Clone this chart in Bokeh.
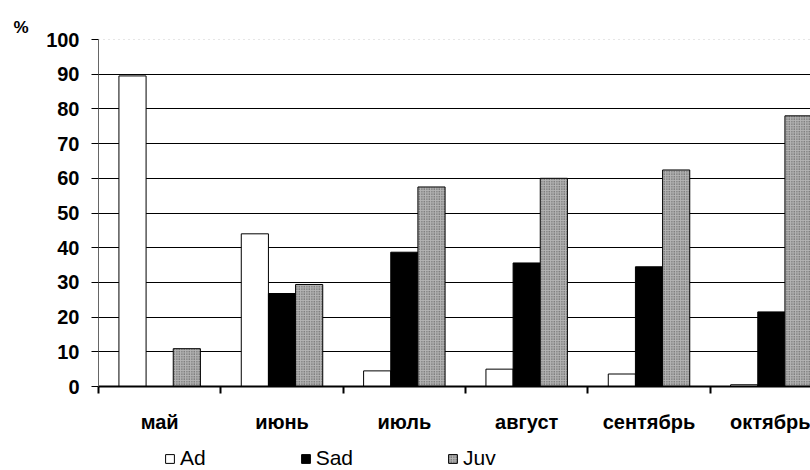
from bokeh.plotting import figure
from bokeh.models import Range1d, FixedTicker, Span, Legend, LegendItem, Title
from bokeh.layouts import column
from bokeh.embed import file_html
from bokeh.resources import INLINE

months = ["май", "июнь", "июль", "август", "сентябрь", "октябрь"]
ad = [89.5, 44.0, 4.5, 5.0, 3.6, 0.5]
sad = [0.0, 26.8, 38.7, 35.6, 34.5, 21.5]
juv = [10.9, 29.4, 57.5, 60.0, 62.4, 78.0]
series = ["Ad", "Sad", "Juv"]
y_ticks = list(range(0, 101, 10))

FONT = "Liberation Sans"
centers = [i + 0.5 for i in range(len(months))]
bw = 0.222

styles = [
    dict(fill_color="white", line_color="black", line_width=1),
    dict(fill_color="black", line_color="black", line_width=1),
    dict(fill_color="#b4b4b4", hatch_pattern=".", hatch_color="#444444", hatch_scale=2.5,
         hatch_weight=1, line_color="black", line_width=1),
]

p = figure(width=810, height=440, x_range=Range1d(0, 5.82), y_range=Range1d(0, 100),
           output_backend="svg", toolbar_location=None,
           min_border_left=98, min_border_right=0, min_border_top=39, min_border_bottom=54)
p.outline_line_color = None
p.background_fill_color = "white"
p.border_fill_color = "white"

for k, vals in enumerate([ad, sad, juv]):
    p.vbar(x=[c + (k - 1) * bw for c in centers], top=vals, width=bw, **styles[k])

# grid
p.xgrid.grid_line_color = None
p.ygrid.ticker = FixedTicker(ticks=y_ticks[1:-1])
p.ygrid.grid_line_color = "black"
p.ygrid.grid_line_width = 1
p.ygrid.level = "underlay"
p.add_layout(Span(location=y_ticks[-1], dimension="width", line_color="#9a9a9a",
                  line_dash="1 4", line_width=1))

# y axis
ya = p.yaxis[0]
ya.ticker = FixedTicker(ticks=y_ticks)
ya.axis_line_color = "#666666"
ya.major_tick_out = 7
ya.major_tick_in = 0
ya.minor_tick_line_color = None
ya.major_tick_line_color = "black"
ya.major_label_text_font = FONT
ya.major_label_text_font_style = "bold"
ya.major_label_text_font_size = "20px"
ya.major_label_text_color = "black"
ya.major_label_standoff = 12

# x axis
xa = p.xaxis[0]
xa.ticker = FixedTicker(ticks=centers, minor_ticks=list(range(len(months))))
xa.major_label_overrides = {c: m for c, m in zip(centers, months)}
xa.axis_line_color = "black"
xa.axis_line_width = 2
xa.major_tick_line_color = None
xa.major_tick_out = 0
xa.major_tick_in = 0
xa.minor_tick_line_color = "black"
xa.minor_tick_line_width = 2
xa.minor_tick_out = 7
xa.minor_tick_in = 0
xa.major_label_text_font = FONT
xa.major_label_text_font_style = "bold"
xa.major_label_text_font_size = "20px"
xa.major_label_text_color = "black"
xa.major_label_standoff = 17

p.add_layout(Title(text="%", align="left", offset=-85, text_font=FONT,
                   text_font_style="bold", text_font_size="17px", text_color="black",
                   standoff=6), "above")

# legend strip
lg = figure(width=810, height=30, x_range=Range1d(0, 1), y_range=Range1d(0, 1),
            output_backend="svg", toolbar_location=None,
            x_axis_location=None, y_axis_location=None,
            min_border_left=0, min_border_right=0, min_border_top=0, min_border_bottom=0)
lg.grid.visible = False
lg.outline_line_color = None
lg.border_fill_color = "white"
items = []
for k, name in enumerate(series):
    r = lg.vbar(x=[5], top=[1], width=0.1, **styles[k])
    items.append(LegendItem(label=name, renderers=[r]))
legend = Legend(items=items, orientation="horizontal", location=(66, 0),
                glyph_width=11, glyph_height=11, label_standoff=5, spacing=94,
                padding=0, margin=0, border_line_color=None, background_fill_alpha=0,
                label_text_font=FONT, label_text_font_size="21px", label_text_color="black")
lg.add_layout(legend, "center")

layout = column(p, lg, spacing=0)
open("out.html", "w").write(file_html(layout, INLINE))
